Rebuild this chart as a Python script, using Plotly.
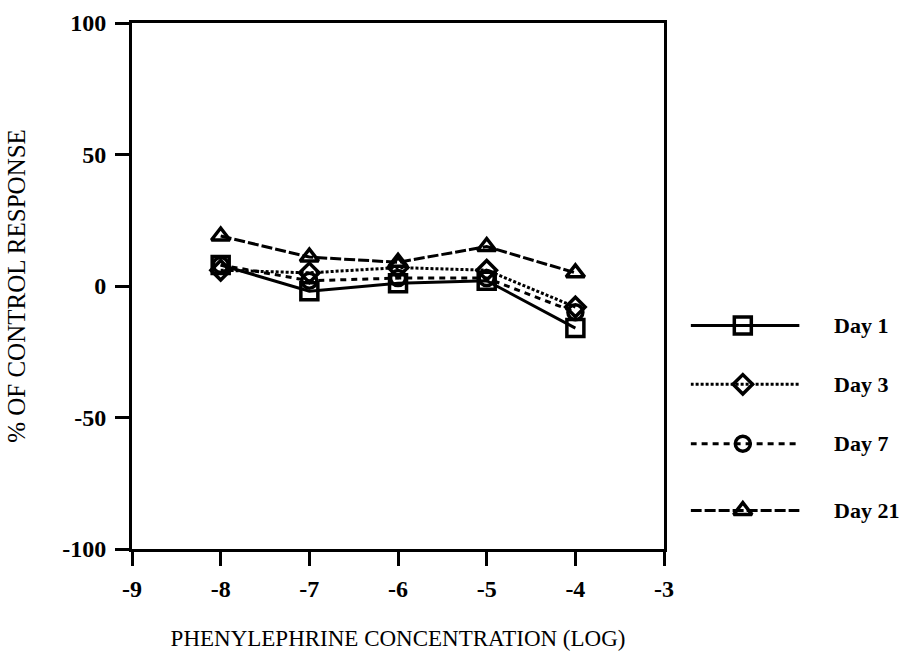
import plotly.graph_objects as go

# Log molar phenylephrine concentration
conc = [-8, -7, -6, -5, -4]

# Response as % of control, per day after treatment
day1 = [8, -2, 1, 2, -16]
day3 = [6, 5, 7, 6, -8]
day7 = [8, 2, 3, 3, -10]
day21 = [19, 11, 9, 15, 5]

series_names = ["Day 1", "Day 3", "Day 7", "Day 21"]
x_ticks = [-9, -8, -7, -6, -5, -4, -3]
y_ticks = [-100, -50, 0, 50, 100]

styles = {
    "Day 1": dict(dash="solid", symbol="square-open", size=17),
    "Day 3": dict(dash="3px,2px", symbol="diamond-open", size=15),
    "Day 7": dict(dash="6px,5px", symbol="circle-open", size=15),
    "Day 21": dict(dash="11px,3px", symbol="triangle-up-open", size=16),
}
values = {"Day 1": day1, "Day 3": day3, "Day 7": day7, "Day 21": day21}

fig = go.Figure()

# Data curves (Day 1 drawn last so it sits on top)
for name in reversed(series_names):
    st = styles[name]
    fig.add_trace(go.Scatter(
        x=conc, y=values[name], mode="lines+markers", name=name,
        line=dict(color="black", width=3, dash=st["dash"]),
        marker=dict(symbol=st["symbol"], size=st["size"], color="black",
                    line=dict(color="black", width=3.5)),
        showlegend=False, xaxis="x", yaxis="y",
    ))

# Key drawn on its own hidden axes to the right of the plot
key_y = [0.425, 0.313, 0.200, 0.073]
for name, ky in zip(series_names, key_y):
    st = styles[name]
    fig.add_trace(go.Scatter(
        x=[0, 1], y=[ky, ky], mode="lines",
        line=dict(color="black", width=3, dash=st["dash"]),
        showlegend=False, xaxis="x2", yaxis="y2", hoverinfo="skip",
    ))
    fig.add_trace(go.Scatter(
        x=[0.48], y=[ky], mode="markers",
        marker=dict(symbol=st["symbol"], size=st["size"], color="black",
                    line=dict(color="black", width=3.5)),
        showlegend=False, xaxis="x2", yaxis="y2", hoverinfo="skip",
    ))
    fig.add_annotation(
        x=1.3, y=ky, xref="x2", yref="y2", text=name, showarrow=False,
        xanchor="left", yanchor="middle",
        font=dict(family="Liberation Serif", size=22, color="black", weight="bold"),
    )

tick_font = dict(family="Liberation Serif", size=24, color="black", weight="bold")
title_font = dict(family="Liberation Serif", size=23, color="black")

fig.update_layout(
    width=911, height=658,
    margin=dict(l=132, r=10, t=18, b=106),
    paper_bgcolor="white", plot_bgcolor="white",
    xaxis=dict(
        range=[-9, -3], tickvals=x_ticks, ticktext=[str(v) for v in x_ticks],
        ticks="outside", ticklen=14, tickwidth=3, tickcolor="black",
        ticklabelstandoff=2,
        showline=True, linewidth=3, linecolor="black", mirror=True,
        showgrid=False, zeroline=False, tickfont=tick_font,
        title=dict(text="PHENYLEPHRINE CONCENTRATION (LOG)", font=title_font, standoff=30),
        domain=[0, 0.701], anchor="y",
    ),
    yaxis=dict(
        range=[-100, 100], tickvals=y_ticks, ticktext=[str(v) for v in y_ticks],
        ticks="outside", ticklen=14, tickwidth=3, tickcolor="black",
        ticklabelstandoff=4,
        showline=True, linewidth=3, linecolor="black", mirror=True,
        showgrid=False, zeroline=False, tickfont=tick_font,
        title=dict(text="% OF CONTROL RESPONSE", font=dict(family="Liberation Serif", size=25, color="black"), standoff=30),
        anchor="x",
    ),
    xaxis2=dict(domain=[0.736, 1.0], range=[0, 1.843], visible=False, anchor="y2"),
    yaxis2=dict(domain=[0, 1], range=[0, 1], visible=False, anchor="x2"),
)

fig.write_html("out.html")
